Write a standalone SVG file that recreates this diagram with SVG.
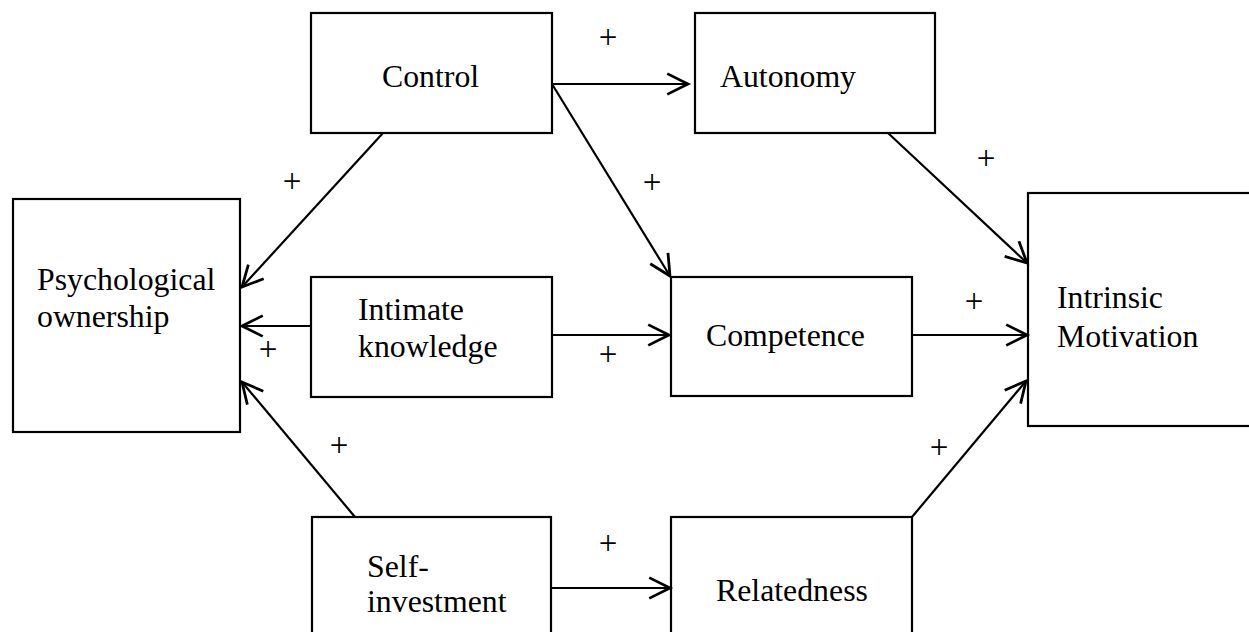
<svg xmlns="http://www.w3.org/2000/svg" width="1249" height="632" viewBox="0 0 1249 632">
<style>
.box{fill:#fff;stroke:#000;stroke-width:2.2}
.lbl{font-family:"Liberation Serif","Times New Roman",serif;font-size:31.8px;fill:#000}
.plus{font-family:"Liberation Serif","Times New Roman",serif;font-size:33px;fill:#000;text-anchor:middle}
.edge{fill:none;stroke:#000;stroke-width:2.2;marker-end:url(#arr)}
</style>
<defs>
<marker id="arr" markerUnits="userSpaceOnUse" markerWidth="30" markerHeight="30" refX="0" refY="0" viewBox="-22 -12 26 24" orient="auto" overflow="visible">
<path d="M-18,-9 L0,0 L-18,9" fill="none" stroke="#000" stroke-width="2.4"/>
</marker>
</defs>
<rect width="1249" height="632" fill="#fff"/>
<g id="psych"><rect class="box" x="13" y="199" width="227" height="233"/><text class="lbl" x="37" y="290">Psychological</text><text class="lbl" x="37" y="327">ownership</text></g>
<g id="control"><rect class="box" x="311" y="13" width="241" height="120"/><text class="lbl" x="382" y="87">Control</text></g>
<g id="autonomy"><rect class="box" x="695" y="13" width="240" height="120"/><text class="lbl" x="720" y="87">Autonomy</text></g>
<g id="intimate"><rect class="box" x="311" y="277" width="241" height="120"/><text class="lbl" x="358" y="320">Intimate</text><text class="lbl" x="358" y="357">knowledge</text></g>
<g id="competence"><rect class="box" x="671" y="277" width="241" height="119"/><text class="lbl" x="706" y="346">Competence</text></g>
<g id="intrinsic"><rect class="box" x="1028" y="193" width="240" height="233"/><text class="lbl" x="1057" y="308">Intrinsic</text><text class="lbl" x="1057" y="347">Motivation</text></g>
<g id="self"><rect class="box" x="312" y="517" width="239" height="130"/><text class="lbl" x="367" y="577">Self-</text><text class="lbl" x="367" y="612">investment</text></g>
<g id="relatedness"><rect class="box" x="671" y="517" width="241" height="130"/><text class="lbl" x="716" y="601">Relatedness</text></g>
<g id="connectors">
<line class="edge" x1="552" y1="84" x2="688" y2="84"/>
<line class="edge" x1="552" y1="84" x2="670" y2="276"/>
<line class="edge" x1="383" y1="133" x2="242" y2="287"/>
<line class="edge" x1="311" y1="326" x2="242" y2="326"/>
<line class="edge" x1="552" y1="335" x2="669" y2="335"/>
<line class="edge" x1="355" y1="517" x2="242" y2="382"/>
<line class="edge" x1="551" y1="588" x2="670" y2="588"/>
<line class="edge" x1="888" y1="133" x2="1027" y2="263"/>
<line class="edge" x1="912" y1="335" x2="1027" y2="335"/>
<line class="edge" x1="912" y1="517" x2="1026" y2="381"/>
</g>
<g id="signs">
<text class="plus" x="608" y="48">+</text>
<text class="plus" x="292" y="192">+</text>
<text class="plus" x="652" y="193">+</text>
<text class="plus" x="986" y="169">+</text>
<text class="plus" x="974" y="312">+</text>
<text class="plus" x="268" y="360">+</text>
<text class="plus" x="608" y="365">+</text>
<text class="plus" x="339" y="456">+</text>
<text class="plus" x="939" y="458">+</text>
<text class="plus" x="608" y="554">+</text>
</g>
</svg>
